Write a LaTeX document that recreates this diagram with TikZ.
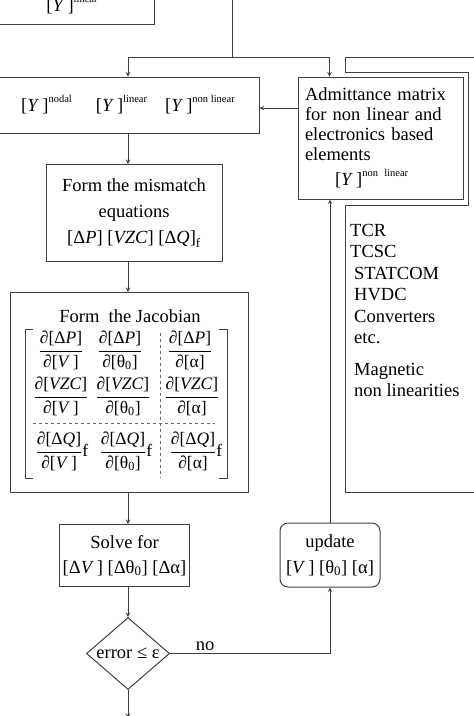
\documentclass[tikz,border=0pt]{standalone}
\usepackage{fontspec}
\setmainfont{Liberation Serif}
\usepackage{amsmath}
\usetikzlibrary{shapes.geometric, arrows}
\newcommand{\Ymat}[1]{[\textit{Y}\,]\raisebox{9pt}{\fontsize{10.5}{11}\selectfont #1}}
\newcommand{\pfrac}[2]{$\dfrac{\text{∂#1}}{\text{∂#2}}$}
\tikzstyle{process} = [rectangle, text centered, draw=black!75, line width=1pt]
\tikzstyle{decision} = [diamond, draw=black!75, line width=1pt, minimum width=83pt, minimum height=72pt, inner sep=0pt]
\tikzstyle{jterm} = [inner sep=1pt, font=\fontsize{17.5}{20}\selectfont]
\tikzstyle{arrow} = [line width=1pt, draw=black!75, ->, >=stealth]
\tikzstyle{line} = [line width=1pt, draw=black!75]
\tikzstyle{grid} = [line width=0.8pt, draw=black!60, dash pattern=on 3pt off 3pt]

\begin{document}
\begin{tikzpicture}[x=1pt, y=1pt, every node/.style={font=\fontsize{18.5}{22}\selectfont}]
			\useasboundingbox (0,0) rectangle (474,-716);
			\node(ylinear)[process, minimum width=164pt, minimum height=40pt, anchor=south] at (72,-25) {\Ymat{linear}};
			\node(ynodal)[process, minimum width=262pt, minimum height=56pt] at (128,-105) {\Ymat{nodal}\hspace{24pt}\Ymat{linear}\hspace{18pt}\Ymat{non linear}};
			\node(mismatch)[process, node distance=108pt, below of=ynodal, xshift=6pt, minimum width=176pt, minimum height=97pt, align=center, font=\fontsize{18.5}{26}\selectfont] {Form the mismatch\\equations\\{}[Δ\textit{P}] [\textit{VZC}] [Δ\textit{Q}]\textsubscript{f}};
			\node(jacob)[process, node distance=179.5pt, below of=mismatch, xshift=-5pt, minimum width=238pt, minimum height=200pt] {};
			\node(solve)[process, node distance=163pt, below of=jacob, xshift=-4.5pt, minimum width=125pt, minimum height=62pt, align=center, font=\fontsize{18.5}{25}\selectfont] {Solve for\\{}[Δ\textit{V}\,] [Δθ\textsubscript{0}] [Δα]};
			\node(check)[decision, node distance=98pt, below of=solve, xshift=3.5pt, label={center:error ≤ ε}] {};
			\node(admit)[process, minimum width=165pt, minimum height=122pt, text width=151pt, inner sep=7pt, align=left, font=\fontsize{18.5}{20}\selectfont] at (380.5,-138) {Admittance matrix\\for non linear and\\electronics based\\elements\\[5pt]\hspace*{30pt}\Ymat{non linear}};
			\node(update)[process, rounded corners=8pt, node distance=417pt, below of=admit, xshift=-50.5pt, minimum width=100pt, minimum height=64pt, align=center, font=\fontsize{18.5}{26}\selectfont] {update\\{}[\textit{V}\,] [θ\textsubscript{0}] [α]};
			\node(devices)[anchor=north west, align=left, inner sep=0pt, font=\fontsize{18.5}{21.5}\selectfont] at (350,-224) {TCR\\TCSC\\\hspace*{4pt}STATCOM\\\hspace*{4pt}HVDC\\\hspace*{4pt}Converters\\\hspace*{4pt}etc.\\[10pt]\hspace*{4pt}Magnetic\\\hspace*{4pt}non linearities};
			\draw [line] (480,-57) -- (345,-57) -- (345,-72) -- (468,-72) -- (468,-205) -- (345,-205) -- (345,-492) -- (480,-492);

			% Jacobian
			\begin{scope}[shift={(jacob.center)}]
				\node(jtitle) at (1,76) {Form\ \ the Jacobian};
				\node(dpv)[jterm] at (-68,42) {\pfrac{[Δ\textit{P}]}{[\textit{V}\,]}};
				\node(dpt)[jterm] at (-9,42) {\pfrac{[Δ\textit{P}]}{[θ\textsubscript{0}]}};
				\node(dpa)[jterm] at (61,42) {\pfrac{[Δ\textit{P}]}{[α]}};
				\node(dzv)[jterm] at (-68,-4) {\pfrac{[\textit{VZC}]}{[\textit{V}\,]}};
				\node(dzt)[jterm] at (-6,-4) {\pfrac{[\textit{VZC}]}{[θ\textsubscript{0}]}};
				\node(dza)[jterm] at (63,-4) {\pfrac{[\textit{VZC}]}{[α]}};
				\node(dqv)[jterm] at (-67,-59) {\pfrac{[Δ\textit{Q}]}{[\textit{V}\,]}f};
				\node(dqt)[jterm] at (-3,-59) {\pfrac{[Δ\textit{Q}]}{[θ\textsubscript{0}]}f};
				\node(dqa)[jterm] at (67,-59) {\pfrac{[Δ\textit{Q}]}{[α]}f};
				\draw [line] (-96,63) -- (-104,63) -- (-104,-86) -- (-96,-86);
				\draw [line] (90,63) -- (98,63) -- (98,-86) -- (90,-86);
				\draw [grid] (31,60) -- (31,-85);
				\draw [grid] (-96,-31) -- (86,-31);
			\end{scope}

			\coordinate(feed) at (232,0);
			\coordinate(split) at (232,-57);
			\coordinate(admitin) at ([xshift=32pt]admit.north west);
			\coordinate(backin) at ([yshift=30pt]admit.west);
			\coordinate(exit) at (128,-718);

			\draw [line] (feed) -- (split);
			\draw [arrow] (split) -| (ynodal.north);
			\draw [arrow] (split) -| (admitin);
			\draw [arrow] (backin) -- (backin -| ynodal.east);
			\draw [arrow] (ynodal.south) -- (ynodal.south |- mismatch.north);
			\draw [arrow] (mismatch.south -| ynodal.south) -- (jacob.north -| ynodal.south);
			\draw [arrow] (jacob.south -| ynodal.south) -- (solve.north -| ynodal.south);
			\draw [arrow] (solve.south -| ynodal.south) -- (check.north);
			\draw [arrow] (check.south) -- (exit);
			\draw [arrow] (check.east) -| node[pos=0.11, above, inner sep=2pt]{no} (update.south);
			\draw [arrow] (update.north) -- (update.north |- admit.south);
		\end{tikzpicture}
\end{document}
